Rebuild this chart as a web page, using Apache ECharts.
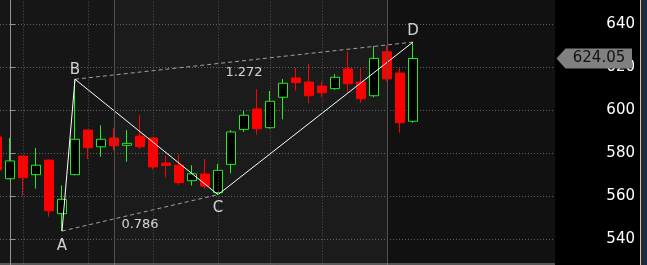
<!DOCTYPE html>
<html><head><meta charset="utf-8">
<script src="https://cdn.jsdelivr.net/npm/echarts@6/dist/echarts.min.js"></script>
<style>html,body{margin:0;padding:0;background:#000}#c{width:647px;height:265px}</style>
</head><body><div id="c"></div><script>
// bar index (trading day), -1 is the partially visible first bar
const barIndex = [-1,0,1,2,3,4,5,6,7,8,9,10,11,12,13,14,15,16,17,18,19,20,21,22,23,24,25,26,27,28,29,30,31];
const opens  = [587.5,568.0,578.6,569.9,576.7,551.7,569.9,590.7,582.9,587.0,583.6,587.9,587.0,575.3,574.3,567.1,570.2,561.5,574.7,591.0,600.5,591.8,606.0,615.0,613.1,611.2,610.0,619.2,613.1,606.7,627.2,617.3,594.8];
const closes = [572.1,576.3,568.5,574.3,553.1,558.4,586.4,582.5,586.4,583.4,584.5,582.9,573.5,574.2,566.2,570.3,564.6,571.9,589.8,597.6,591.3,604.1,612.5,612.8,606.7,608.1,615.3,612.3,605.3,624.1,614.6,594.1,624.05];
const lows   = [570.0,567.7,560.1,563.4,550.3,543.6,569.6,577.1,578.3,581.1,575.9,581.9,572.4,568.6,565.1,564.8,563.4,560.6,570.5,589.8,588.5,591.3,595.7,609.0,603.2,606.0,609.5,608.3,603.4,606.0,613.4,589.5,594.1];
const highs  = [589.0,587.0,578.8,582.3,577.0,564.9,614.4,590.9,592.9,591.7,590.7,597.7,587.2,578.6,579.5,574.3,577.2,574.9,590.7,599.6,609.8,608.9,614.5,619.6,621.5,613.4,616.8,627.4,620.0,629.9,630.2,619.8,631.7];
const yTicks = [520,540,560,580,600,620,640,660];
const lastPrice = 624.05;
// harmonic pattern pivots: [bar index, price]
const pivotNames = ['A','B','C','D'];
const pivots = [[4,543.6],[5,614.4],[16,560.6],[31,631.7]];
const fibLabels = ['0.786','1.272'];
// week and month separators (bar index)
const weekLines = [1,6,11,16,20,24];
const monthLines = [8,29];

const candleData = barIndex.map((x,i)=>[x,opens[i],closes[i],lows[i],highs[i]]);
const mid = (p,q)=>[(p[0]+q[0])/2,(p[1]+q[1])/2];
const fibPts = [
  {value: mid(pivots[0],pivots[2]), name: fibLabels[0]},
  {value: mid(pivots[1],pivots[3]), name: fibLabels[1]}
];
const labelPos = ['bottom','top','bottom','top'];
const labelDist = [8,2,6,3];

const chart = echarts.init(document.getElementById('c'));
const font = 'DejaVu Sans';
chart.setOption({
  backgroundColor: '#000',
  animation: false,
  grid: {left: 0, right: 92, top: -18.6, height: 300.3, containLabel: false, outerBoundsMode: 'none'},
  xAxis: {type: 'value', min: -10/13, max: 545/13, show: false},
  yAxis: {
    type: 'value', position: 'right', min: yTicks[0], max: yTicks[yTicks.length-1], interval: 20,
    axisLine: {show: true, lineStyle: {color: '#8a8a8a', width: 1}},
    axisTick: {show: true, length: 5, lineStyle: {color: '#8a8a8a'}},
    axisLabel: {color: '#fff', fontFamily: font, fontSize: 15, align: 'right', margin: 80},
    splitLine: {show: true, lineStyle: {color: '#555', type: [1,2], width: 1}}
  },
  series: [
    {
      type: 'line', data: [], z: 1, silent: true,
      markArea: {
        silent: true,
        data: [
          [{xAxis: 'min', itemStyle: {color: 'rgba(255,255,255,0.085)'}}, {xAxis: monthLines[0]}],
          [{xAxis: monthLines[0], itemStyle: {color: 'rgba(255,255,255,0.105)'}}, {xAxis: monthLines[1]}],
          [{xAxis: monthLines[1], itemStyle: {color: 'rgba(255,255,255,0.068)'}}, {xAxis: 'max'}]
        ]
      },
      markLine: {
        silent: true, symbol: 'none', label: {show: false},
        data: weekLines.map(v=>({xAxis: v, lineStyle: {color: '#555', type: [1,2], width: 1}}))
          .concat(monthLines.map(v=>({xAxis: v, lineStyle: {color: '#505050', type: 'solid', width: 1}})))
      }
    },
    {
      type: 'candlestick', z: 2, barWidth: 9,
      encode: {x: 0, y: [1,2,3,4]},
      data: candleData,
      itemStyle: {color: '#000', color0: '#ff0000', borderColor: '#22ee22', borderColor0: '#ff0000', borderWidth: 1}
    },
    {
      type: 'line', z: 3, symbol: 'none', silent: true,
      data: [pivots[0], pivots[2]],
      lineStyle: {color: '#a0a0a0', width: 1, type: [4,3]}
    },
    {
      type: 'line', z: 3, symbol: 'none', silent: true,
      data: [pivots[1], pivots[3]],
      lineStyle: {color: '#a0a0a0', width: 1, type: [4,3]}
    },
    {
      type: 'line', z: 4, symbol: 'none', silent: true,
      data: pivots,
      lineStyle: {color: '#fff', width: 1}
    },
    {
      type: 'scatter', z: 5, symbolSize: 0, silent: true,
      data: pivots.map((p,i)=>({value: p, name: pivotNames[i], label: {position: labelPos[i], distance: labelDist[i]}})),
      label: {show: true, formatter: '{b}', color: '#fff', fontFamily: font, fontSize: 15}
    },
    {
      type: 'scatter', z: 5, symbolSize: 0, silent: true,
      data: fibPts,
      label: {show: true, position: 'bottom', distance: 5, formatter: '{b}', color: '#fff', fontFamily: font, fontSize: 13}
    }
  ]
});

const yPx = chart.convertToPixel({yAxisIndex: 0}, lastPrice);
const axisX = chart.convertToPixel({xAxisIndex: 0}, 545/13);
const bottomPx = chart.convertToPixel({yAxisIndex: 0}, 528.25);
chart.setOption({
  graphic: [
    {type: 'rect', z: 10, shape: {x: 641, y: 0, width: 6, height: 265}, style: {fill: '#1d2a45'}},
    {type: 'line', z: 10, shape: {x1: 640.5, y1: 0, x2: 640.5, y2: 265}, style: {stroke: '#e6c476', lineWidth: 1}},
    {type: 'line', z: 10, shape: {x1: 0, y1: bottomPx, x2: axisX, y2: bottomPx}, style: {stroke: '#9a9a9a', lineWidth: 1}},
    {type: 'polygon', z: 10, shape: {points: [[axisX+1.5, yPx],[axisX+10.5, yPx-10],[632, yPx-10],[632, yPx+10],[axisX+10.5, yPx+10]]}, style: {fill: '#808080'}},
    {type: 'text', z: 11, x: 599, y: yPx, style: {text: lastPrice.toFixed(2), fill: '#111', font: '15px "DejaVu Sans"', textAlign: 'center', textVerticalAlign: 'middle'}}
  ]
});
</script></body></html>
